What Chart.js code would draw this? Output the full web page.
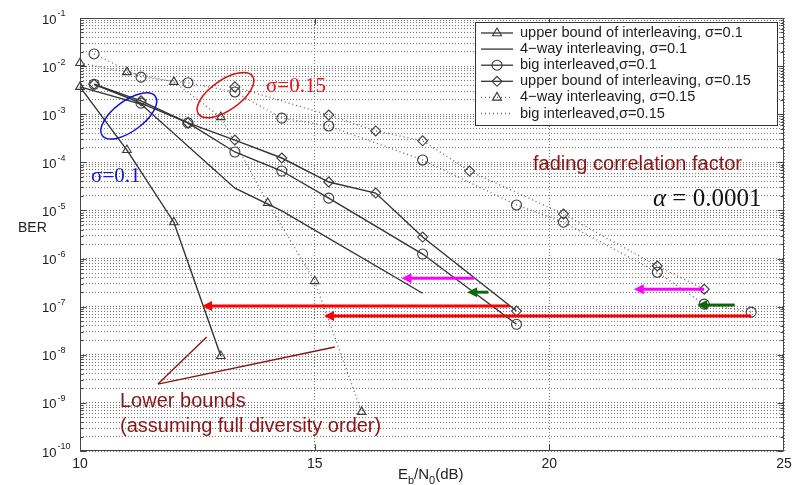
<!DOCTYPE html>
<html lang="en">
<head>
<meta charset="utf-8">
<title>BER vs Eb/N0</title>
<script src="https://cdn.jsdelivr.net/npm/chart.js@4.4.0/dist/chart.umd.min.js"></script>
<style>
  html, body { margin: 0; padding: 0; background: #fff; }
  canvas { display: block; }
</style>
</head>
<body>
<canvas id="chart-1" width="805" height="485"></canvas>
<script>
// values: Eb/N0 (dB) -> BER
var ubX01 = [10, 11, 12, 13];
var ubY01 = [3.7e-3, 1.8e-4, 5.7e-6, 9.4e-9];

var fourX01 = [10, 11.3, 13.3, 14.3, 17.3];
var fourY01 = [3.7e-3, 1.63e-3, 2.9e-5, 9.8e-6, 1.9e-7];

var bigX01 = [10.3, 11.3, 12.3, 13.3, 14.3, 15.3, 17.3, 19.3];
var bigY01 = [4.2e-3, 1.7e-3, 6.6e-4, 1.64e-4, 6.6e-5, 1.8e-5, 1.24e-6, 4.3e-8];

var ubX015 = [10.3, 11.3, 12.3, 13.3, 14.3, 15.3, 16.3, 17.3, 19.3];
var ubY015 = [4.2e-3, 1.9e-3, 6.6e-4, 2.9e-4, 1.23e-4, 3.9e-5, 2.3e-5, 2.8e-6, 8.1e-8];

var fourX015 = [10, 11, 12, 13, 14, 15, 16];
var fourY015 = [1.16e-2, 7.5e-3, 4.7e-3, 8.7e-4, 1.43e-5, 3.4e-7, 6.5e-10];

var bigX015 = [10.3, 11.3, 12.3, 13.3, 14.3, 15.3, 17.3, 19.3, 20.3, 22.3, 23.3, 24.3];
var bigY015 = [1.79e-2, 5.9e-3, 4.5e-3, 2.9e-3, 8.3e-4, 5.7e-4, 1.12e-4, 1.3e-5, 5.7e-6, 5.2e-7, 1.13e-7, 7.7e-8];

var dotDiaX = [13.3, 15.3, 16.3, 17.3, 18.3, 20.3, 22.3, 23.3];
var dotDiaY = [3.7e-3, 9.6e-4, 4.5e-4, 2.8e-4, 6.6e-5, 8.4e-6, 7.0e-7, 2.3e-7];

var xTicks = [10, 15, 20, 25];
var yDecades = [-1, -2, -3, -4, -5, -6, -7, -8, -9, -10];

var legendLabels = [
  'upper bound of interleaving, \u03c3=0.1',
  '4\u2212way interleaving, \u03c3=0.1',
  'big interleaved,\u03c3=0.1',
  'upper bound of interleaving, \u03c3=0.15',
  '4\u2212way interleaving, \u03c3=0.15',
  'big interleaved,\u03c3=0.15'
];

// annotation arrows (x from, x to, BER level)
var arrows = [
  { x1: 19.15, x2: 12.6, y: 1.03e-7, c: '#ff0000' },
  { x1: 24.3, x2: 15.2, y: 6.4e-8, c: '#ff0000' },
  { x1: 18.4, x2: 16.85, y: 3.9e-7, c: '#ff00ff' },
  { x1: 23.3, x2: 21.8, y: 2.3e-7, c: '#ff00ff' },
  { x1: 18.7, x2: 18.25, y: 2.0e-7, c: '#0a6a0a' },
  { x1: 23.95, x2: 23.15, y: 1.08e-7, c: '#0a6a0a' }
];

var SOLID = '#333', DOT = '#666', MARK = '#3a3a3a';
var SANS = '"Liberation Sans", Arial, sans-serif';
var SERIF = '"Liberation Serif", "Times New Roman", serif';
var DARKRED = '#8b1414';

function pts(xs, ys) {
  return xs.map(function (x, i) { return { x: x, y: ys[i] }; });
}

function series(label, xs, ys, dotted, marker) {
  return {
    label: label,
    data: pts(xs, ys),
    borderColor: dotted ? DOT : SOLID,
    borderWidth: dotted ? 1.3 : 1.4,
    borderDash: dotted ? [1, 3] : [],
    pointStyle: marker || 'circle',
    pointRadius: marker ? 5 : 0,
    pointBorderColor: MARK,
    pointBorderWidth: 1.1,
    pointBackgroundColor: 'rgba(0,0,0,0)',
    tension: 0,
    clip: false
  };
}

function marker(ctx, style, x, y, r) {
  ctx.beginPath();
  if (style === 'circle') {
    ctx.arc(x, y, r, 0, Math.PI * 2);
  } else if (style === 'triangle') {
    ctx.moveTo(x, y - r); ctx.lineTo(x + r * 0.9, y + r * 0.55); ctx.lineTo(x - r * 0.9, y + r * 0.55); ctx.closePath();
  } else if (style === 'rectRot') {
    ctx.moveTo(x, y - r); ctx.lineTo(x + r, y); ctx.lineTo(x, y + r); ctx.lineTo(x - r, y); ctx.closePath();
  }
  ctx.stroke();
}

var legendStyles = [
  [false, 'triangle'], [false, null], [false, 'circle'],
  [false, 'rectRot'], [true, 'triangle'], [true, null]
];

var overlay = {
  id: 'overlay',
  afterDraw: function (chart) {
    var ctx = chart.ctx, xs = chart.scales.x, ys = chart.scales.y, a = chart.chartArea;
    var X = function (v) { return xs.getPixelForValue(v); };
    var Y = function (v) { return ys.getPixelForValue(v); };
    var L = Math.round(a.left) + 0.5, R = Math.round(a.right) - 0.5;
    var T = Math.round(a.top) + 0.5, B = Math.round(a.bottom) - 0.5;
    ctx.save();

    // axes box and inner ticks
    ctx.strokeStyle = '#444'; ctx.lineWidth = 1; ctx.setLineDash([]);
    ctx.strokeRect(L, T, R - L, B - T);
    ctx.beginPath();
    for (var e = -10; e <= -1; e++) {
      for (var m = 1; m <= 9; m++) {
        if (e === -1 && m > 1) break;
        var yy = Math.round(Y(m * Math.pow(10, e))) + 0.5;
        var len = m === 1 ? 6 : 3;
        ctx.moveTo(L, yy); ctx.lineTo(L + len, yy);
        ctx.moveTo(R, yy); ctx.lineTo(R - len, yy);
      }
    }
    [15, 20].forEach(function (v) {
      var xx = Math.round(X(v)) + 0.5;
      ctx.moveTo(xx, B); ctx.lineTo(xx, B - 6);
      ctx.moveTo(xx, T); ctx.lineTo(xx, T + 6);
    });
    ctx.stroke();

    // tick labels
    ctx.fillStyle = '#222';
    ctx.textBaseline = 'middle'; ctx.textAlign = 'left';
    yDecades.forEach(function (d) {
      var yy = Y(Math.pow(10, d));
      ctx.font = '13px ' + SANS;
      ctx.fillText('10', 42, yy + 2);
      var w = ctx.measureText('10').width;
      ctx.font = '9px ' + SANS;
      ctx.fillText('-' + (-d), 42 + w + 1, yy - 4);
    });
    ctx.font = '14px ' + SANS; ctx.textAlign = 'center'; ctx.textBaseline = 'top';
    xTicks.forEach(function (v) { ctx.fillText(String(v), X(v), 457); });

    // axis titles
    ctx.textAlign = 'left'; ctx.textBaseline = 'middle';
    ctx.font = '14px ' + SANS;
    ctx.fillText('BER', 18, 228);
    ctx.textBaseline = 'alphabetic';
    var tx = 398;
    [['E', 0], ['b', 1], ['/N', 0], ['0', 1], ['(dB)', 0]].forEach(function (p) {
      ctx.font = (p[1] ? '11px ' : '15px ') + SANS;
      ctx.fillText(p[0], tx, p[1] ? 484 : 479);
      tx += ctx.measureText(p[0]).width;
    });

    // legend
    ctx.fillStyle = '#fff';
    ctx.fillRect(475.5, 22.5, 302, 103);
    ctx.strokeStyle = '#333';
    ctx.strokeRect(475.5, 22.5, 302, 103);
    ctx.font = '14.6px ' + SANS; ctx.textBaseline = 'middle'; ctx.fillStyle = '#222';
    legendLabels.forEach(function (lab, i) {
      var ry = 33 + i * 16.1;
      var st = legendStyles[i];
      ctx.strokeStyle = st[0] ? DOT : SOLID;
      ctx.lineWidth = 1.3;
      ctx.setLineDash(st[0] ? [1, 3] : []);
      ctx.beginPath(); ctx.moveTo(481, ry); ctx.lineTo(513, ry); ctx.stroke();
      ctx.setLineDash([]); ctx.lineWidth = 1.1; ctx.strokeStyle = MARK;
      if (st[1]) marker(ctx, st[1], 497, ry, 5);
      ctx.fillText(lab, 520, ry);
    });

    // arrows
    arrows.forEach(function (ar) {
      var x1 = X(ar.x1), x2 = X(ar.x2), y = Y(ar.y);
      ctx.strokeStyle = ar.c; ctx.fillStyle = ar.c; ctx.lineWidth = 3;
      ctx.beginPath(); ctx.moveTo(x1, y); ctx.lineTo(x2 + 6, y); ctx.stroke();
      ctx.beginPath(); ctx.moveTo(x2, y); ctx.lineTo(x2 + 10, y - 5); ctx.lineTo(x2 + 10, y + 5); ctx.closePath(); ctx.fill();
    });

    // ellipses
    ctx.lineWidth = 1.5;
    ctx.strokeStyle = '#e01010';
    ctx.beginPath(); ctx.ellipse(X(13.1), Y(2.5e-3), 33, 15, -0.61, 0, Math.PI * 2); ctx.stroke();
    ctx.strokeStyle = '#1010e0';
    ctx.beginPath(); ctx.ellipse(X(11.04), Y(9.2e-4), 33, 15, -0.64, 0, Math.PI * 2); ctx.stroke();

    ctx.textBaseline = 'middle'; ctx.textAlign = 'left';
    ctx.font = '21px ' + SERIF;
    ctx.fillStyle = '#ee1111'; ctx.fillText('\u03c3=0.15', 266, 86);
    ctx.fillStyle = '#1515e5'; ctx.fillText('\u03c3=0.1', 91, 176);

    // lower bound pointers
    ctx.strokeStyle = DARKRED; ctx.lineWidth = 1.4;
    var px = X(11.66), py = Y(2.46e-9);
    ctx.beginPath();
    ctx.moveTo(px, py); ctx.lineTo(X(12.7), Y(2.33e-8));
    ctx.moveTo(px, py); ctx.lineTo(X(15.43), Y(1.45e-8));
    ctx.stroke();

    ctx.fillStyle = DARKRED; ctx.textBaseline = 'alphabetic';
    ctx.font = '20px ' + SANS;
    ctx.fillText('Lower bounds', 120, 407);
    ctx.fillText('(assuming full diversity order)', 120, 432);
    ctx.fillText('fading correlation factor', 533, 170);

    ctx.fillStyle = '#111';
    ctx.font = 'italic 25px ' + SERIF;
    ctx.fillText('\u03b1', 653, 206);
    var aw = ctx.measureText('\u03b1').width;
    ctx.font = '25px ' + SERIF;
    ctx.fillText(' = 0.0001', 653 + aw, 206);

    ctx.restore();
  }
};

new Chart(document.getElementById('chart-1'), {
  type: 'line',
  data: {
    datasets: [
      series(legendLabels[0], ubX01, ubY01, false, 'triangle'),
      series(legendLabels[1], fourX01, fourY01, false, null),
      series(legendLabels[2], bigX01, bigY01, false, 'circle'),
      series(legendLabels[3], ubX015, ubY015, false, 'rectRot'),
      series(legendLabels[4], fourX015, fourY015, true, 'triangle'),
      series(legendLabels[5], bigX015, bigY015, true, 'circle'),
      series('', dotDiaX, dotDiaY, true, 'rectRot')
    ]
  },
  options: {
    responsive: false,
    animation: false,
    layout: { padding: { left: 80, right: 21, top: 18, bottom: 34 } },
    plugins: { legend: { display: false }, tooltip: { enabled: false } },
    scales: {
      x: {
        type: 'linear', min: 10, max: 25,
        ticks: { display: false, stepSize: 5 },
        grid: { color: '#777', drawTicks: false, lineWidth: 1 },
        border: { display: false, dash: [1, 2] }
      },
      y: {
        type: 'logarithmic', min: 1e-10, max: 1e-1,
        ticks: { display: false },
        afterBuildTicks: function (axis) {
          var t = [];
          for (var e = -10; e <= -2; e++) {
            for (var m = 1; m <= 9; m++) t.push({ value: m * Math.pow(10, e) });
          }
          t.push({ value: 1e-1 });
          axis.ticks = t;
        },
        grid: { color: '#777', drawTicks: false, lineWidth: 1 },
        border: { display: false, dash: [1, 2] }
      }
    }
  },
  plugins: [overlay]
});
</script>
</body>
</html>
